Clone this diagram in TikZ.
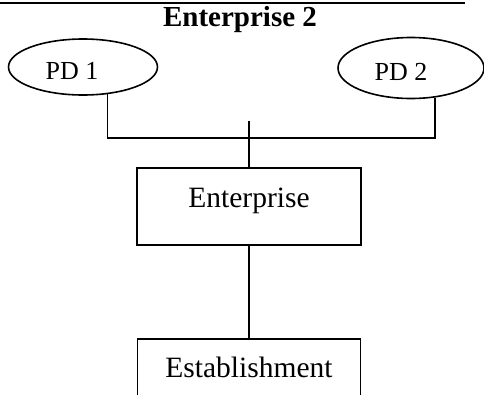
\documentclass[tikz,border=0pt]{standalone}
\usepackage{fontspec}
\setmainfont{Liberation Serif}
\usetikzlibrary{shapes.geometric}
\begin{document}
\begin{tikzpicture}[x=1pt,y=-1pt,
  every node/.style={inner sep=0pt},
  conn/.style={line width=1.6pt},
  pd/.style={draw,ellipse,line width=1.6pt,font=\fontsize{26}{30}\selectfont,text height=30pt,text depth=5pt},
  box/.style={draw,rectangle,line width=1.6pt,font=\fontsize{29.5}{34}\selectfont}]
\useasboundingbox (0,0) rectangle (484,394);
\clip (0,0) rectangle (484,394);
% truncated underline of the caption above
\draw[line width=2pt] (0,3) -- (465,3);
\node[anchor=base,font=\fontsize{29}{34}\selectfont\bfseries] (title) at (240,26) {Enterprise 2};
\node[pd,minimum width=149pt,minimum height=56pt] (pd1) at (83,67) {PD 1\hspace*{22pt}};
\node[pd,minimum width=146pt,minimum height=61pt] (pd2) at (411,68) {PD 2\hspace*{20pt}};
\node[box,minimum width=224pt,minimum height=77pt,text height=20pt,text depth=18pt] (ent) at (249,206.5) {Enterprise};
\node[box,anchor=north,minimum width=223pt,text height=39pt,text depth=20pt] (est) at (249,338) {Establishment};
\coordinate (j) at (249,138);
\coordinate (stub) at (249,121);
\draw[conn] (pd1.-48) |- (j) -| (pd2.-51);
\draw[conn] (stub) -- (ent.north);
\draw[conn] (ent.south) -- (est.north);
\end{tikzpicture}
\end{document}
